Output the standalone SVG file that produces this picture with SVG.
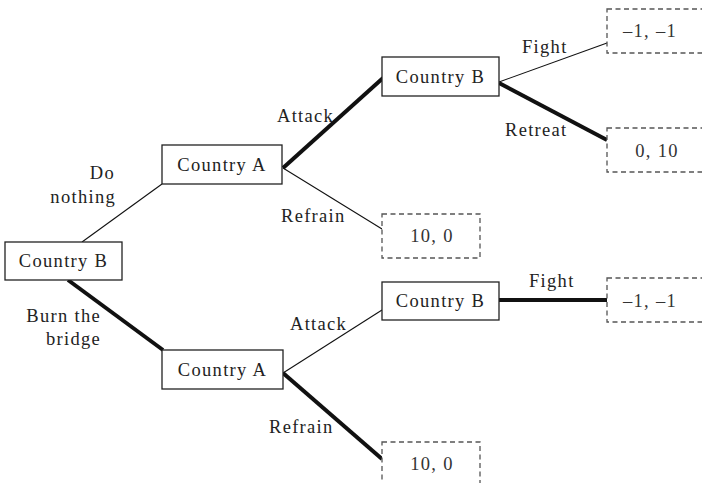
<svg xmlns="http://www.w3.org/2000/svg" width="702" height="483" viewBox="0 0 702 483">
  <style>
    text { font-family: "Liberation Serif", "Times New Roman", serif; font-size: 18.5px; fill: #222; letter-spacing: 1.3px; }
    .payoff text { fill: #333; }
    .node rect { fill: #fff; stroke: #222; stroke-width: 1.3; }
    .payoff rect { fill: #fff; stroke: #555; stroke-width: 1.3; stroke-dasharray: 5 3.5; }
    .thin { stroke: #111; stroke-width: 1.1; fill: none; }
    .thick { stroke: #111; stroke-width: 4; fill: none; }
    .mid { text-anchor: middle; }
    .end { text-anchor: end; }
  </style>

  <!-- branches -->
  <g id="connectors">
    <line class="thin" x1="82" y1="242" x2="162" y2="184"/>
    <line class="thick" x1="68" y1="280" x2="163" y2="350"/>
    <line class="thick" x1="283" y1="168" x2="383" y2="78"/>
    <line class="thin" x1="283" y1="168" x2="382" y2="229"/>
    <line class="thin" x1="499" y1="82" x2="607" y2="43"/>
    <line class="thick" x1="499" y1="83" x2="607" y2="140"/>
    <line class="thin" x1="283" y1="373" x2="382" y2="310"/>
    <line class="thick" x1="283" y1="373" x2="382" y2="459"/>
    <line class="thick" x1="499" y1="300" x2="607" y2="300"/>
  </g>

  <!-- branch labels -->
  <g id="labels">
    <text class="end" x="115" y="179">Do</text>
    <text class="end" x="116" y="203">nothing</text>
    <text class="end" x="101" y="322">Burn the</text>
    <text class="end" x="101" y="345">bridge</text>
    <text x="277" y="122">Attack</text>
    <text x="281" y="222">Refrain</text>
    <text x="522" y="53">Fight</text>
    <text x="505" y="136">Retreat</text>
    <text x="290" y="330">Attack</text>
    <text x="269" y="433">Refrain</text>
    <text x="529" y="287">Fight</text>
  </g>

  <!-- decision nodes -->
  <g id="root" class="node">
    <rect x="5" y="242" width="117" height="38"/>
    <text class="mid" x="63.5" y="267">Country B</text>
  </g>
  <g id="a-top" class="node">
    <rect x="162" y="145" width="120" height="39"/>
    <text class="mid" x="222" y="171">Country A</text>
  </g>
  <g id="a-bottom" class="node">
    <rect x="162" y="350" width="121" height="39"/>
    <text class="mid" x="222.5" y="376">Country A</text>
  </g>
  <g id="b-top" class="node">
    <rect x="382" y="57" width="117" height="39"/>
    <text class="mid" x="440.5" y="83">Country B</text>
  </g>
  <g id="b-bottom" class="node">
    <rect x="382" y="282" width="117" height="38"/>
    <text class="mid" x="440.5" y="307">Country B</text>
  </g>

  <!-- payoffs -->
  <g id="p-fight-top" class="payoff">
    <rect x="607" y="9" width="98" height="44"/>
    <text class="mid" x="650" y="37">–1, –1</text>
  </g>
  <g id="p-retreat" class="payoff">
    <rect x="607" y="128" width="98" height="44"/>
    <text class="mid" x="657" y="157">0, 10</text>
  </g>
  <g id="p-refrain-top" class="payoff">
    <rect x="382" y="214" width="98" height="44"/>
    <text class="mid" x="432" y="242">10, 0</text>
  </g>
  <g id="p-fight-bottom" class="payoff">
    <rect x="607" y="278" width="98" height="44"/>
    <text class="mid" x="650" y="307">–1, –1</text>
  </g>
  <g id="p-refrain-bottom" class="payoff">
    <rect x="382" y="442" width="98" height="44"/>
    <text class="mid" x="432" y="470">10, 0</text>
  </g>
</svg>
